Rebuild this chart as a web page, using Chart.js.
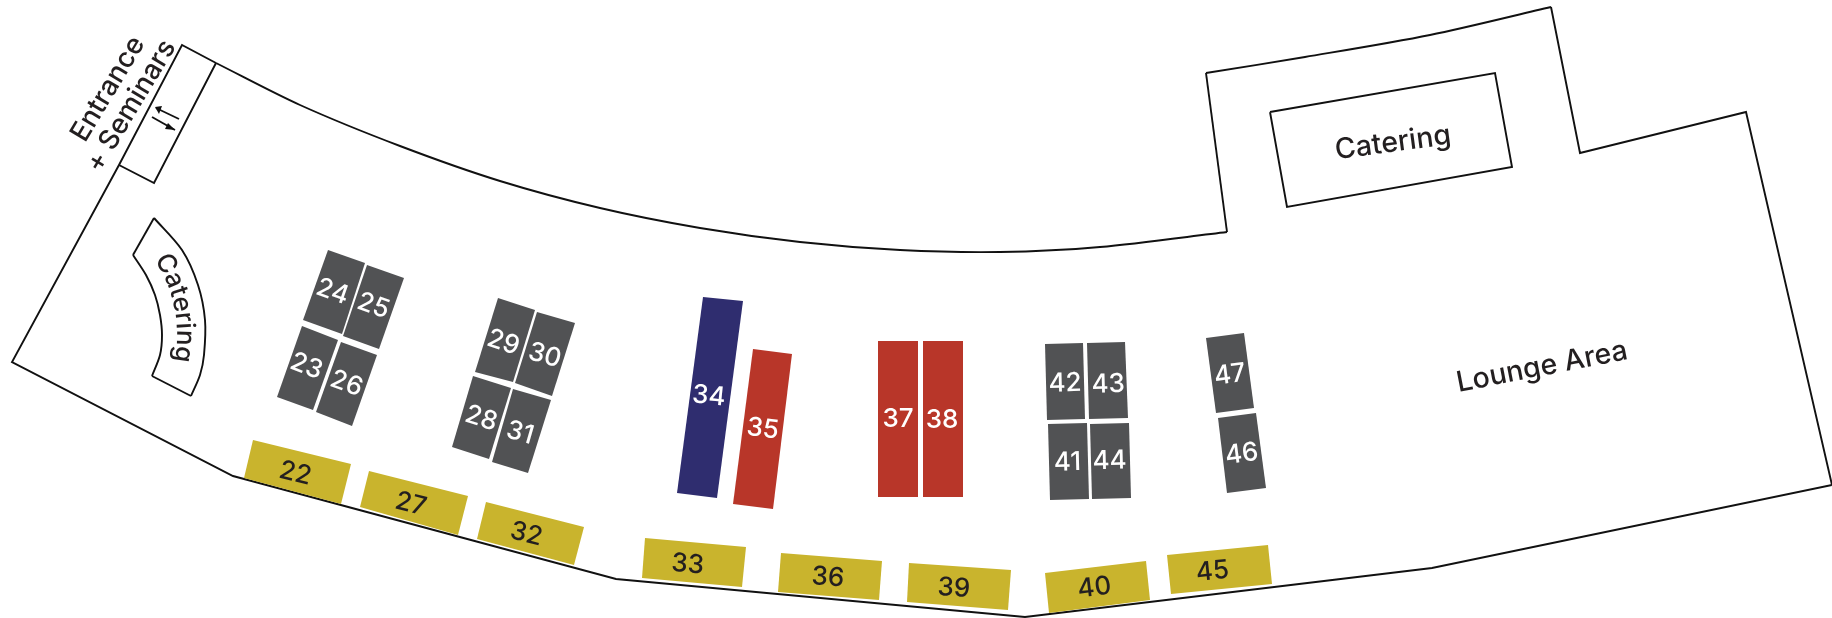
<!DOCTYPE html>
<html><head><meta charset="utf-8">
<style>html,body{margin:0;padding:0;background:#fff}#w{width:1832px;height:618px;position:relative}</style>
<script src="https://cdn.jsdelivr.net/npm/chart.js@4/dist/chart.umd.js"></script>
</head><body><div id="w"><canvas id="c"></canvas></div>
<script>
const boothIds = [22,27,32,33,36,39,40,45, 23,24,25,26,28,29,30,31,41,42,43,44,46,47, 34, 35,37,38];
const goldBooths = {22:[[253,440],[351,464],[341,504],[244,478]],27:[[369,471],[468,496],[458,535],[360,507]],32:[[486,502],[584,527],[574,565],[477,539]],33:[[645,538],[746,547],[742,587],[642,578]],36:[[781,553],[882,561],[879,600],[778,592]],39:[[909,563],[1011,570],[1008,610],[907,602]],40:[[1045,573],[1146,561],[1150,600],[1049,613]],45:[[1167,555],[1268,545],[1272,584],[1171,594]]};
const greyBooths = {24:[[328,250],[365,263],[342,334],[303,320]],25:[[367,265],[404,278],[379,349],[343,336]],23:[[302,326],[338,340],[313,410],[277,397]],26:[[341,342],[377,355],[352,426],[316,412]],29:[[498,298],[535,310],[513,382],[475,372]],30:[[537,312],[575,323],[552,396],[515,383]],28:[[473,376],[511,388],[489,459],[452,447]],31:[[513,389],[551,400],[528,473],[492,462]],42:[[1045,344],[1083,343],[1085,419],[1047,420]],43:[[1087,343],[1125,342],[1128,418],[1089,419]],41:[[1048,424],[1087,423],[1089,499],[1050,500]],44:[[1090,424],[1129,423],[1131,498],[1092,499]],47:[[1206,338],[1244,333],[1254,408],[1216,413]],46:[[1218,418],[1256,413],[1266,488],[1227,493]]};
const navyBooths = {34:[[703,297],[743,301],[717,498],[677,493]]};
const redBooths = {35:[[753,349],[792,354],[773,509],[733,504]],37:[[878,341],[918,341],[918,497],[878,497]],38:[[923,341],[963,341],[963,497],[923,497]]};
const labelNudge = {22:[-2,2],27:[-3,2],32:[-4,1],33:[-6,2],36:[-2,1],39:[-5,2],40:[-3,1],45:[-7,2],24:[-2,0],25:[0,-1],23:[-1,-2],26:[0,0],29:[-2,2],30:[0,2],28:[0,1],31:[-1,2],34:[-1,-1],35:[0,0],37:[0,0],38:[-1,1],42:[0,2],43:[1,4],41:[-1,1],44:[-1,0],47:[0,2],46:[0,1]};
const outlineStraight = [[216,63],[182,45],[119,165],[12,362],[233,476],[616,579],[1025,617],[1432,568],[1832,485],[1746,112],[1580,153],[1551,7]];
const topCurve = [[216,63],[300,105],[400,146],[500,181],[600,208],[700,228],[800,242],[900,250],[1000,252],[1100,247],[1227,232]];
const leftNotch = [[1227,232],[1206,73]];
const upperCurve = [[1206,73],[1305,57],[1430,35],[1551,7]];
const doorEdges = [[216,63],[154,183],[119,165]];
const cateringBox = [[1270,112],[1495,73],[1512,167],[1287,207],[1270,112]];
const arcOuter = [[154,218],[182,250],[198,285],[205,320],[204,355],[200,375],[191,396]];
const arcInner = [[133,255],[146,275],[155,295],[160,315],[162,335],[160,355],[152,376]];
const arcEnds = [[[154,218],[133,255]],[[191,396],[152,376]]];
const arrowLines = [[[179,119],[156,108]],[[152,117],[175,130]]];
const arrowHeads = [[[155,107],[162,106],[159,114],[155,107]],[[175,130],[168,123],[165,129],[175,130]]];
const areaTexts = [["Lounge Area",1542,367,-11,28.5],["Catering",1393,143,-7.6,28.5],["Entrance",108,89,-59,27.5],["+ Seminars",131,106,-59,27.5]];
const arcText = "Catering", arcCentre=[44,334], arcRadius=133, arcStartDeg=-34, arcSize=26;

const poly = (p,color)=>({data:[...p,p[0]].map(([x,y])=>({x,y})),showLine:true,pointRadius:0,borderWidth:0,borderColor:color,backgroundColor:color,fill:'shape',tension:0});
const line = (p,t)=>({data:p.map(([x,y])=>({x,y})),showLine:true,pointRadius:0,borderWidth:1.9,borderColor:'#111',backgroundColor:'transparent',fill:false,tension:t||0});
const datasets=[];
const allBooths={};
[[goldBooths,'#C9B42D'],[greyBooths,'#515254'],[navyBooths,'#2F2D6F'],[redBooths,'#B83629']].forEach(([g,c])=>{for(const k in g){datasets.push(poly(g[k],c));allBooths[k]={p:g[k],c:c==='#C9B42D'?'#231F20':'#fff'};}});
datasets.push(line(outlineStraight),line(topCurve,.3),line(leftNotch),line(upperCurve,.3),line(doorEdges),line(cateringBox),line(arcOuter,.3),line(arcInner,.3));
arcEnds.forEach(e=>datasets.push(line(e)));
arrowLines.forEach(e=>datasets.push(line(e)));
arrowHeads.forEach(e=>datasets.push(poly(e,'#111')));

const FONT='Inter, sans-serif';
const labels={id:'labels',afterDatasetsDraw(ch){
  const {ctx,scales:{x,y}}=ch;
  const put=(t,px,py,deg,size,col)=>{ctx.save();ctx.translate(x.getPixelForValue(px),y.getPixelForValue(py));ctx.rotate(deg*Math.PI/180);ctx.font=`500 ${size}px ${FONT}`;ctx.fillStyle=col;ctx.textAlign='center';ctx.textBaseline='middle';ctx.fillText(t,0,0);ctx.restore();};
  boothIds.forEach(id=>{const b=allBooths[id],p=b.p,n=labelNudge[id];const cx=p.reduce((s,q)=>s+q[0],0)/4+n[0],cy=p.reduce((s,q)=>s+q[1],0)/4+n[1];const deg=Math.atan2(p[1][1]-p[0][1],p[1][0]-p[0][0])*180/Math.PI;put(String(id),cx,cy,deg,26,b.c);});
  areaTexts.forEach(t=>put(t[0],t[1],t[2],t[3],t[4],'#231F20'));
  ctx.font=`500 ${arcSize}px ${FONT}`;let a=arcStartDeg*Math.PI/180;
  for(const ch2 of arcText){const w=ctx.measureText(ch2).width;const m=a+w/2/arcRadius;
    ctx.save();ctx.translate(x.getPixelForValue(arcCentre[0]+arcRadius*Math.cos(m)),y.getPixelForValue(arcCentre[1]+arcRadius*Math.sin(m)));ctx.rotate(m+Math.PI/2);ctx.fillStyle='#231F20';ctx.textAlign='center';ctx.textBaseline='alphabetic';ctx.fillText(ch2,0,0);ctx.restore();a+=w/arcRadius;}
}};
new Chart(document.getElementById('c'),{type:'scatter',data:{datasets},plugins:[labels],options:{responsive:true,maintainAspectRatio:false,animation:false,layout:{padding:0},plugins:{legend:{display:false},tooltip:{enabled:false}},scales:{x:{type:'linear',min:0,max:1832,display:false},y:{type:'linear',min:0,max:618,reverse:true,display:false}}}});
</script></body></html>
